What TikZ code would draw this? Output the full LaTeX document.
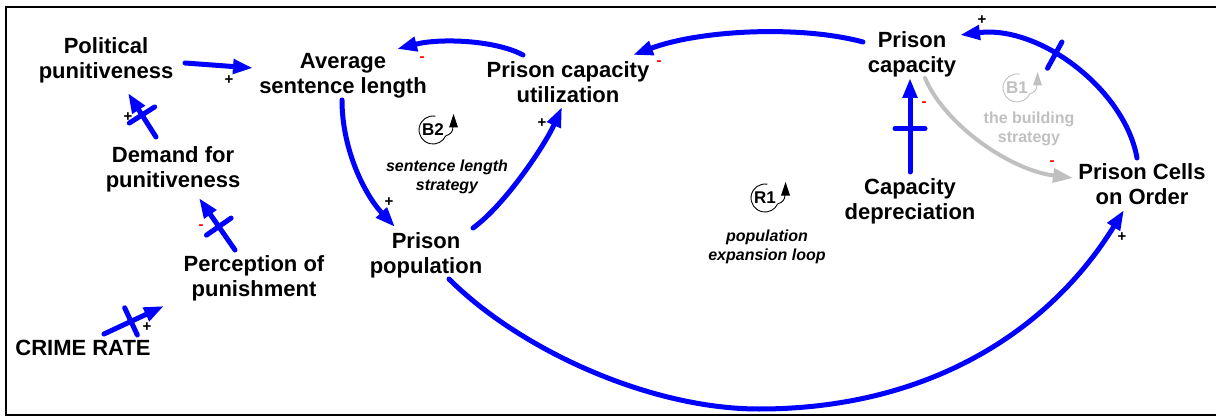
\documentclass[tikz,border=0pt]{standalone}
\usepackage{fontspec}
\setmainfont{Liberation Sans}
\usetikzlibrary{arrows.meta,decorations.markings}
\definecolor{vblue}{RGB}{0,0,255}
\definecolor{vgray}{RGB}{192,192,192}
\definecolor{vred}{RGB}{255,0,0}
\begin{document}
\begin{tikzpicture}[x=1pt,y=-1pt,
  var/.style={align=center, font=\fontsize{22}{25}\selectfont\bfseries, inner sep=0pt},
  link/.style={draw=vblue, line width=5pt, line cap=round, -{Triangle[length=20pt,width=14pt]}},
  glink/.style={link, draw=vgray, line width=4pt},
  delaymark/.style={postaction={decorate}, decoration={markings, mark=at position #1 with {\draw[line width=5pt, line cap=round, -, draw=vblue] (0pt,-15pt) -- (0pt,15pt);}}},
  plus/.style={font=\fontsize{15}{15}\selectfont\bfseries, inner sep=0pt},
  minus/.style={font=\fontsize{15}{15}\selectfont\bfseries, text=vred, inner sep=0pt},
  looplbl/.style={align=center, font=\fontsize{16}{19}\selectfont\bfseries\itshape, inner sep=0pt},
  loopid/.style={font=\fontsize{17}{17}\selectfont\bfseries, inner sep=0pt},
  loopline/.style={line width=0.9pt},
]
\useasboundingbox (0,0) rectangle (1216,417);
\draw[line width=2.5pt] (1230,7) -- (6,7) -- (6,415) -- (1230,415);

% variables
\node[var] (pp) at (106,60) {Political\\punitiveness};
\node[var] (asl) at (343,76) {Average\\sentence length};
\node[var] (dfp) at (173,169) {Demand for\\punitiveness};
\node[var] (pop) at (254,278) {Perception of\\punishment};
\node[var] (cr) at (83,348) {CRIME RATE};
\node[var] (pcu) at (568,82) {Prison capacity\\utilization};
\node[var] (ppop) at (426,255) {Prison\\population};
\node[var] (pc) at (912,54) {Prison\\capacity};
\node[var] (cd) at (910,201) {Capacity\\depreciation};
\node[var] (pco) at (1142,184) {Prison Cells\\on Order};
\coordinate (low) at (759,409);

% links
\draw[link] ([shift={(79,3)}]pp.center) -- ([shift={(-90,-8)}]asl.center);
\draw[link, delaymark=0.5] ([shift={(-17,-32)}]dfp.center) -- ([shift={(22,33)}]pp.center);
\draw[link, delaymark=0.45] ([shift={(-19,-28)}]pop.center) -- ([shift={(26,29)}]dfp.center);
\draw[link, delaymark=0.45] ([shift={(21,-14)}]cr.center) -- ([shift={(-90,28)}]pop.center);
\draw[link] ([shift={(-1,24)}]asl.center) .. controls (342,150) and (365,195) .. ([shift={(-31,-28)}]ppop.center);
\draw[link] ([shift={(47,-27)}]ppop.center) .. controls (505,205) and (545,145) .. ([shift={(-6,25)}]pcu.center);
\draw[link] ([shift={(-45,-27)}]pcu.center) .. controls (495,40) and (440,38) .. ([shift={(54,-27)}]asl.center);
\draw[link] ([shift={(-49,-12)}]pc.center) .. controls (800,25) and (700,30) .. ([shift={(65,-27)}]pcu.center);
\draw[link, delaymark=0.46] ([shift={(0,-29)}]cd.center) -- ([shift={(-2,24)}]pc.center);
\draw[glink] ([shift={(13,24)}]pc.center) .. controls (945,125) and (1010,170) .. ([shift={(-69,-6)}]pco.center);
\draw[link, delaymark=0.58] ([shift={(-5,-26)}]pco.center) .. controls (1125,90) and (1040,25) .. ([shift={(48,-19)}]pc.center);
\draw[link] ([shift={(23,24)}]ppop.center) .. controls (519,349) and (649,409) .. (low) .. controls (930,409) and (1050,330) .. ([shift={(-18,26)}]pco.center);

% polarities
\node[plus] (s1) at (229,80) {+};
\node[plus] (s2) at (128,117) {+};
\node[minus] (s3) at (201,227) {-};
\node[plus] (s4) at (147,327) {+};
\node[plus] (s5) at (389,202) {+};
\node[plus] (s6) at (542,123) {+};
\node[minus] (s7) at (422,59) {-};
\node[minus] (s8) at (659,63) {-};
\node[minus] (s9) at (924,104) {-};
\node[minus] (s10) at (1052,163) {-};
\node[plus] (s11) at (982,20) {+};
\node[plus] (s12) at (1122,237) {+};

% loops
\node[loopid] (b2) at (433,130) {B2};
\node[looplbl] (b2l) at (447,177) {sentence length\\strategy};
\node[loopid] (r1) at (765,198) {R1};
\node[looplbl] (r1l) at (767,247) {population\\expansion loop};
\node[loopid, text=vgray] (b1) at (1017,88) {B1};
\node[looplbl, font=\fontsize{16}{19}\selectfont\bfseries, text=vgray] (b1l) at (1029,129) {the building\\strategy};

\foreach \lp/\col in {b2/black, r1/black, b1/vgray}{
  \draw[loopline, draw=\col] ([shift={(80:14pt)}]\lp.center) arc[start angle=80, end angle=335, radius=14pt]
     .. controls ([shift={(18pt,-4pt)}]\lp.center) and ([shift={(20pt,-2pt)}]\lp.center) .. ([shift={(20pt,4pt)}]\lp.center);
  \fill[\col] ([shift={(20.5pt,16pt)}]\lp.center) -- ([shift={(16pt,2.5pt)}]\lp.center) -- ([shift={(25pt,2.5pt)}]\lp.center) -- cycle;
}
\end{tikzpicture}
\end{document}
